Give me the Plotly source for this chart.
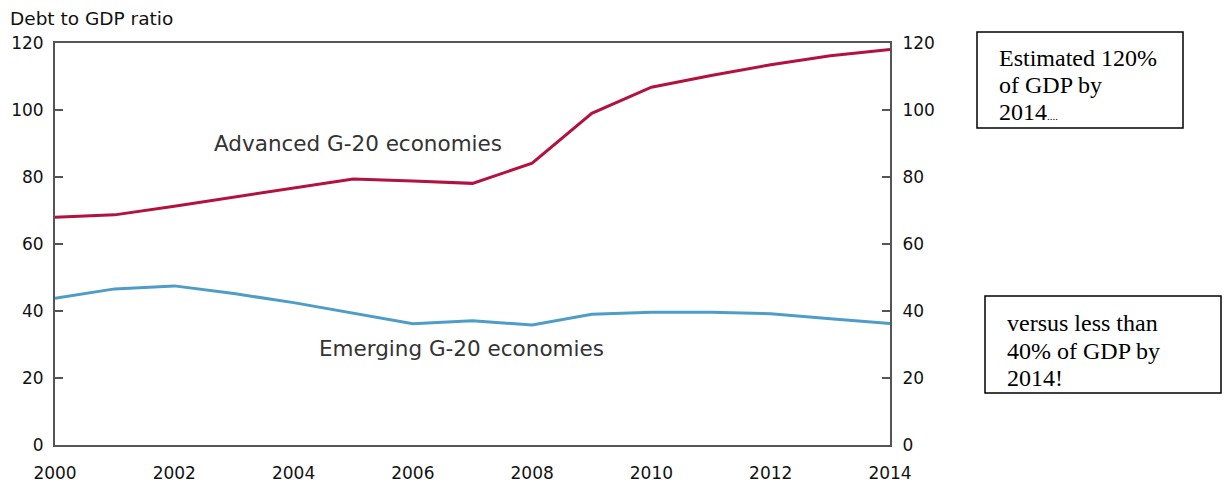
import plotly.graph_objects as go

years = [2000, 2001, 2002, 2003, 2004, 2005, 2006, 2007, 2008, 2009, 2010, 2011, 2012, 2013, 2014]
advanced = [68.0, 68.7, 71.3, 74.0, 76.7, 79.4, 78.8, 78.1, 84.1, 99.0, 106.8, 110.3, 113.5, 116.2, 118.1]
emerging = [43.8, 46.6, 47.5, 45.2, 42.5, 39.4, 36.2, 37.1, 35.8, 39.0, 39.6, 39.6, 39.2, 37.7, 36.3]
x_ticks = [2000, 2002, 2004, 2006, 2008, 2010, 2012, 2014]
y_ticks = [0, 20, 40, 60, 80, 100, 120]

W, H = 1225, 483
L, R, T, B = 55, 890, 43, 445


def px(x):
    return (x - L) / (R - L)


def py(y):
    return (B - y) / (B - T)


fig = go.Figure()
fig.add_trace(go.Scatter(x=years, y=advanced, mode="lines",
                         line=dict(color="#B3123F", width=3), showlegend=False))
fig.add_trace(go.Scatter(x=years, y=emerging, mode="lines",
                         line=dict(color="#4E9DC9", width=3), showlegend=False))
# invisible trace to activate right axis
fig.add_trace(go.Scatter(x=[years[0]], y=[advanced[0]], yaxis="y2", mode="lines",
                         line=dict(width=0), showlegend=False, hoverinfo="skip"))

tickfont = dict(family="DejaVu Sans", size=17, color="#111")
fig.update_layout(
    width=W, height=H,
    margin=dict(l=L, r=W - R, t=T, b=H - B),
    paper_bgcolor="white", plot_bgcolor="white",
    xaxis=dict(range=[2000, 2014], tickvals=x_ticks, showgrid=False, zeroline=False,
               showline=True, linecolor="#555", linewidth=2, mirror=True, automargin=False,
               ticks="", tickfont=tickfont, ticklabelstandoff=12),
    yaxis=dict(range=[0, 120], tickvals=y_ticks, showgrid=False, zeroline=False,
               showline=True, linecolor="#555", linewidth=2, automargin=False,
               ticks="inside", ticklen=8, tickcolor="#555", tickwidth=1.5,
               tickfont=tickfont, ticklabelstandoff=6),
    yaxis2=dict(range=[0, 120], tickvals=y_ticks, overlaying="y", side="right",
                showgrid=False, zeroline=False, showline=True, linecolor="#555", linewidth=2,
                automargin=False,
                ticks="inside", ticklen=8, tickcolor="#555", tickwidth=1.5,
                tickfont=tickfont, ticklabelstandoff=7),
)

annots = []
annots.append(dict(text="Debt to GDP ratio", x=px(8), y=py(18), xanchor="left", yanchor="middle",
                   font=dict(family="DejaVu Sans", size=18.5, color="#111")))
annots.append(dict(text="Advanced G-20 economies", x=px(358), y=py(143), xanchor="center", yanchor="middle",
                   font=dict(family="DejaVu Sans", size=21.5, color="#333")))
annots.append(dict(text="Emerging G-20 economies", x=px(461), y=py(348), xanchor="center", yanchor="middle",
                   font=dict(family="DejaVu Sans", size=21.5, color="#333")))

serif = dict(family="Liberation Serif", size=24, color="black")
box1_lines = ["Estimated 120%", "of GDP by", "2014<span style='font-size:11px'>....</span>"]
box1_y = [58, 85, 112]
for t, yy in zip(box1_lines, box1_y):
    annots.append(dict(text=t, x=px(997), y=py(yy), xanchor="left", yanchor="middle", font=serif))
box2_lines = ["versus less than", "40% of GDP by", "2014!"]
box2_y = [323, 351, 378]
for t, yy in zip(box2_lines, box2_y):
    annots.append(dict(text=t, x=px(1005), y=py(yy), xanchor="left", yanchor="middle", font=serif))

for a in annots:
    a.update(xref="paper", yref="paper", showarrow=False)
fig.update_layout(annotations=annots)

fig.add_shape(type="rect", xref="paper", yref="paper", x0=px(977), x1=px(1183), y0=py(128), y1=py(32),
              line=dict(color="black", width=1.5), fillcolor="rgba(0,0,0,0)")
fig.add_shape(type="rect", xref="paper", yref="paper", x0=px(985), x1=px(1221), y0=py(393), y1=py(296),
              line=dict(color="black", width=1.5), fillcolor="rgba(0,0,0,0)")

fig.write_html("out.html")
